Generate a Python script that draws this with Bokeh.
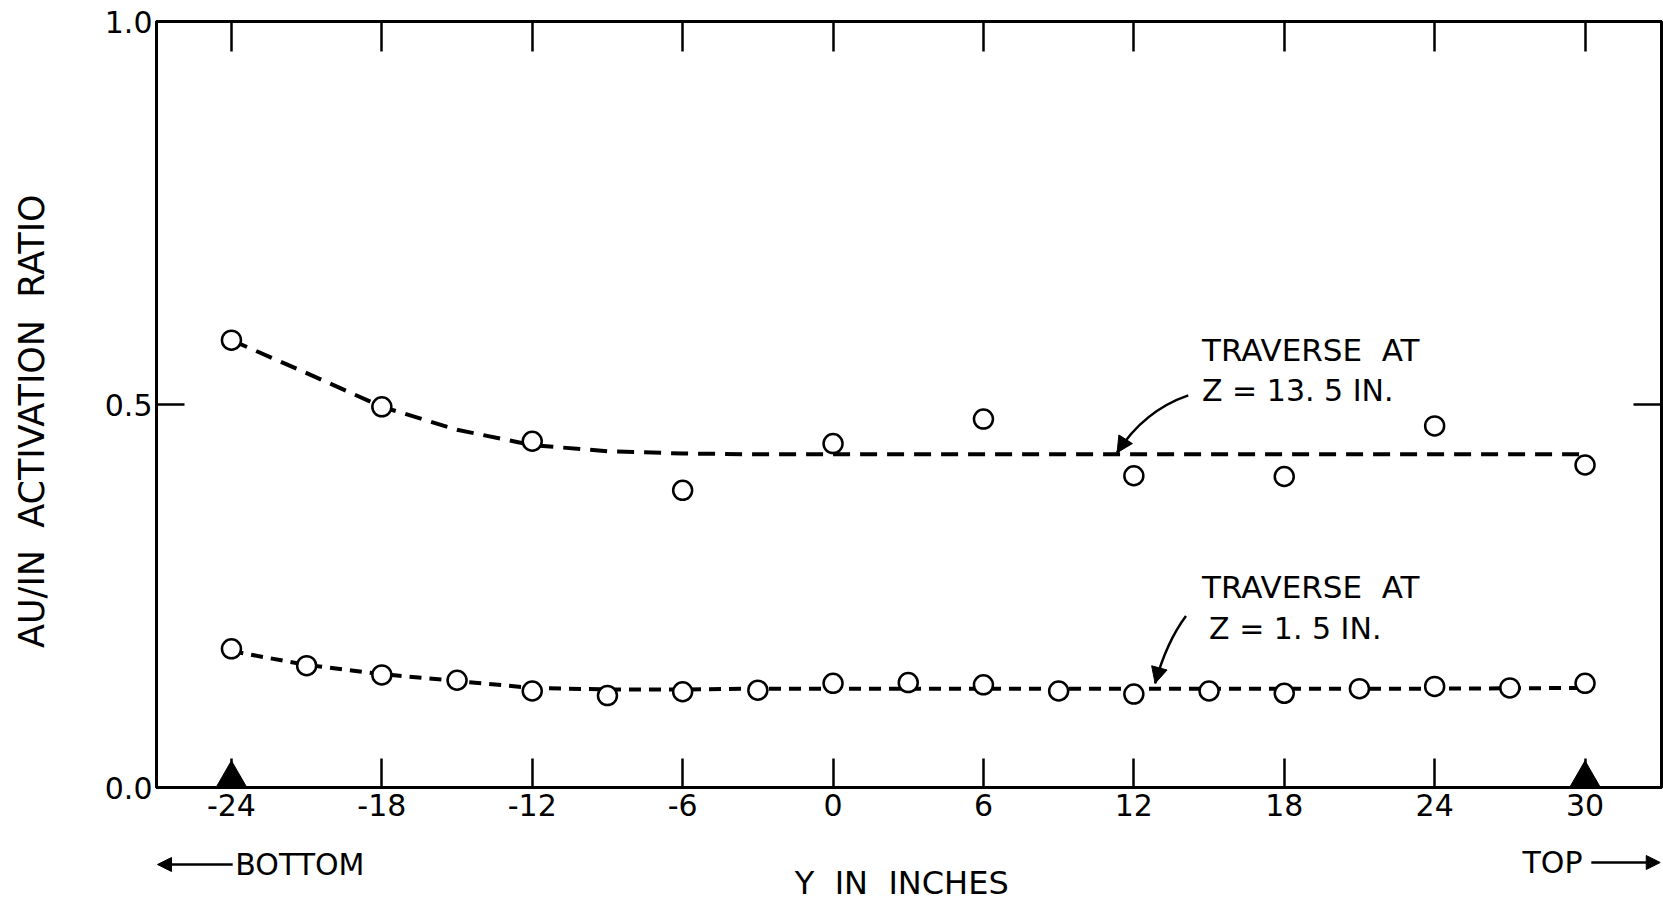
import math
from bokeh.plotting import figure
from bokeh.layouts import column
from bokeh.models import Range1d, LinearAxis, FixedTicker, Label, Arrow, NormalHead
from bokeh.embed import file_html
from bokeh.resources import INLINE

FONT = "DejaVu Sans"
NB = "\u00a0"

# ---------------- data ----------------
x_ticks = [-24, -18, -12, -6, 0, 6, 12, 18, 24, 30]
x_tick_labels = ["-24", "-18", "-12", "-6", "0", "6", "12", "18", "24", "30"]
y_ticks = [0.0, 0.5, 1.0]
y_tick_labels = ["0.0", "0.5", "1.0"]

# Traverse at Z = 13.5 in.
pos_upper = [-24, -18, -12, -6, 0, 6, 12, 18, 24, 30]
ratio_upper = [0.584, 0.497, 0.452, 0.388, 0.449, 0.481, 0.407, 0.406, 0.472, 0.421]
curve_upper_x = [-24, -21, -18, -15, -12, -9, -6, -3, 0, 6, 12, 18, 24, 30]
curve_upper_y = [0.584, 0.541, 0.497, 0.467, 0.447, 0.439, 0.436, 0.435, 0.435,
                 0.435, 0.435, 0.435, 0.435, 0.435]

# Traverse at Z = 1.5 in.
pos_lower = [-24, -21, -18, -15, -12, -9, -6, -3, 0, 3, 6, 9, 12, 15, 18, 21, 24, 27, 30]
ratio_lower = [0.181, 0.159, 0.147, 0.140, 0.126, 0.120, 0.125, 0.127, 0.136, 0.137,
               0.134, 0.126, 0.122, 0.126, 0.123, 0.129, 0.132, 0.130, 0.136]
curve_lower_x = [-24, -21, -18, -15, -12, -9, -6, -3, 0, 6, 12, 18, 24, 30]
curve_lower_y = [0.178, 0.160, 0.148, 0.139, 0.130, 0.128, 0.128, 0.129, 0.129,
                 0.129, 0.129, 0.129, 0.129, 0.130]

# ends of the traverse (bottom / top)
ends = [-24, 30]

# ---------------- main figure ----------------
W = 1663
H1 = 830
H2 = 904 - H1
LEFT, RIGHT, TOP, BOTTOM = 156, 2, 21, 43
FRAME_H = H1 - TOP - BOTTOM

x_range = Range1d(-26.99, 33.05)

p = figure(width=W, height=H1, x_range=x_range, y_range=Range1d(0, 1),
           output_backend="svg", toolbar_location=None,
           min_border_left=LEFT, min_border_right=RIGHT,
           min_border_top=TOP, min_border_bottom=BOTTOM)
p.grid.visible = False
p.outline_line_color = "black"
p.outline_line_width = 3
p.background_fill_color = "white"
p.border_fill_color = "white"

def style_axis(ax, tick_in, ticks, labels=None):
    ax.ticker = FixedTicker(ticks=ticks)
    ax.axis_line_width = 3
    ax.axis_line_color = "black"
    ax.major_tick_in = tick_in
    ax.major_tick_out = 0
    ax.major_tick_line_width = 2.5
    ax.minor_tick_line_color = None
    ax.major_label_text_font = FONT
    ax.major_label_text_color = "black"
    ax.major_label_text_font_size = "30px"
    if labels is None:
        ax.major_label_overrides = {t: "" for t in ticks}
        ax.major_label_standoff = 0
    else:
        ax.major_label_overrides = dict(zip(ticks, labels))

xb = p.xaxis[0]
style_axis(xb, 29, x_ticks, x_tick_labels)
xb.major_label_standoff = 6

yl = p.yaxis[0]
style_axis(yl, 28, y_ticks, y_tick_labels)
yl.major_label_standoff = 4
yl.axis_label = "AU/IN" + NB * 2 + "ACTIVATION" + NB * 2 + "RATIO" + NB * 3
yl.axis_label_text_font = FONT
yl.axis_label_text_font_size = "35px"
yl.axis_label_text_font_style = "normal"
yl.axis_label_text_color = "black"
yl.axis_label_standoff = 50

xt = LinearAxis()
style_axis(xt, 30, x_ticks)
p.add_layout(xt, "above")

yr = LinearAxis()
style_axis(yr, 28, [0.5])
p.add_layout(yr, "right")

# curves and points
p.line(curve_upper_x, curve_upper_y, line_color="black", line_width=4, line_dash="17 10")
p.line(curve_lower_x, curve_lower_y, line_color="black", line_width=4, line_dash="12 8")

p.scatter(pos_upper, ratio_upper, marker="circle", size=19, fill_color="white",
          line_color="black", line_width=2.5)
p.scatter(pos_lower, ratio_lower, marker="circle", size=19, fill_color="white",
          line_color="black", line_width=2.5)

tri_size = 32
tri_y = (tri_size / 2 * math.sqrt(3) / 3 - 1) / FRAME_H
p.scatter(ends, [tri_y] * len(ends), marker="triangle", size=tri_size,
          fill_color="black", line_color="black", line_width=1)

def lab(fig, x, y, text, size="30px", align="left", angle=0.0):
    fig.add_layout(Label(x=x, y=y, text=text, text_font=FONT, text_font_size=size,
                         text_align=align, text_baseline="middle", angle=angle,
                         text_color="black"))

lab(p, 14.72, 0.571, "TRAVERSE" + NB * 2 + "AT", size="31px")
lab(p, 14.72, 0.518, "Z = 13. 5" + NB + "IN.")
lab(p, 14.72, 0.262, "TRAVERSE" + NB * 2 + "AT", size="31px")
lab(p, 15.0, 0.208, "Z = 1. 5" + NB + "IN.")

def pointer(x0, y0, cx, cy, x1, y1):
    p.quadratic(x0=[x0], y0=[y0], x1=[x1], y1=[y1], cx=[cx], cy=[cy],
                line_color="black", line_width=2.5)
    p.add_layout(Arrow(end=NormalHead(size=16, fill_color="black", line_color="black"),
                       x_start=x1 + 0.25 * (cx - x1), y_start=y1 + 0.25 * (cy - y1),
                       x_end=x1, y_end=y1, line_width=2.5, line_color="black"))

pointer(14.17, 0.512, 12.4, 0.492, 11.33, 0.437)
pointer(14.08, 0.224, 13.3, 0.190, 12.85, 0.136)

# ---------------- strip below: axis title and direction markers ----------------
q = figure(width=W, height=H2, x_range=x_range, y_range=Range1d(0, H2),
           output_backend="svg", toolbar_location=None,
           min_border_left=LEFT, min_border_right=RIGHT, min_border_top=0, min_border_bottom=0)
q.axis.visible = False
q.grid.visible = False
q.outline_line_color = None
q.background_fill_color = "white"
q.border_fill_color = "white"

lab(q, 2.74, H2 - 52, "Y" + NB * 2 + "IN" + NB * 2 + "INCHES", size="32px", align="center")
lab(q, -23.85, H2 - 34, "BOTTOM")
lab(q, 29.9, H2 - 32, "TOP", align="right")
q.add_layout(Arrow(end=NormalHead(size=14, fill_color="black", line_color="black"),
                   x_start=-23.95, y_start=H2 - 34, x_end=-26.95, y_end=H2 - 34,
                   line_width=2.5, line_color="black"))
q.add_layout(Arrow(end=NormalHead(size=14, fill_color="black", line_color="black"),
                   x_start=30.25, y_start=H2 - 32, x_end=33.0, y_end=H2 - 32,
                   line_width=2.5, line_color="black"))

layout = column(p, q, spacing=0)
open("out.html", "w").write(file_html(layout, INLINE))
